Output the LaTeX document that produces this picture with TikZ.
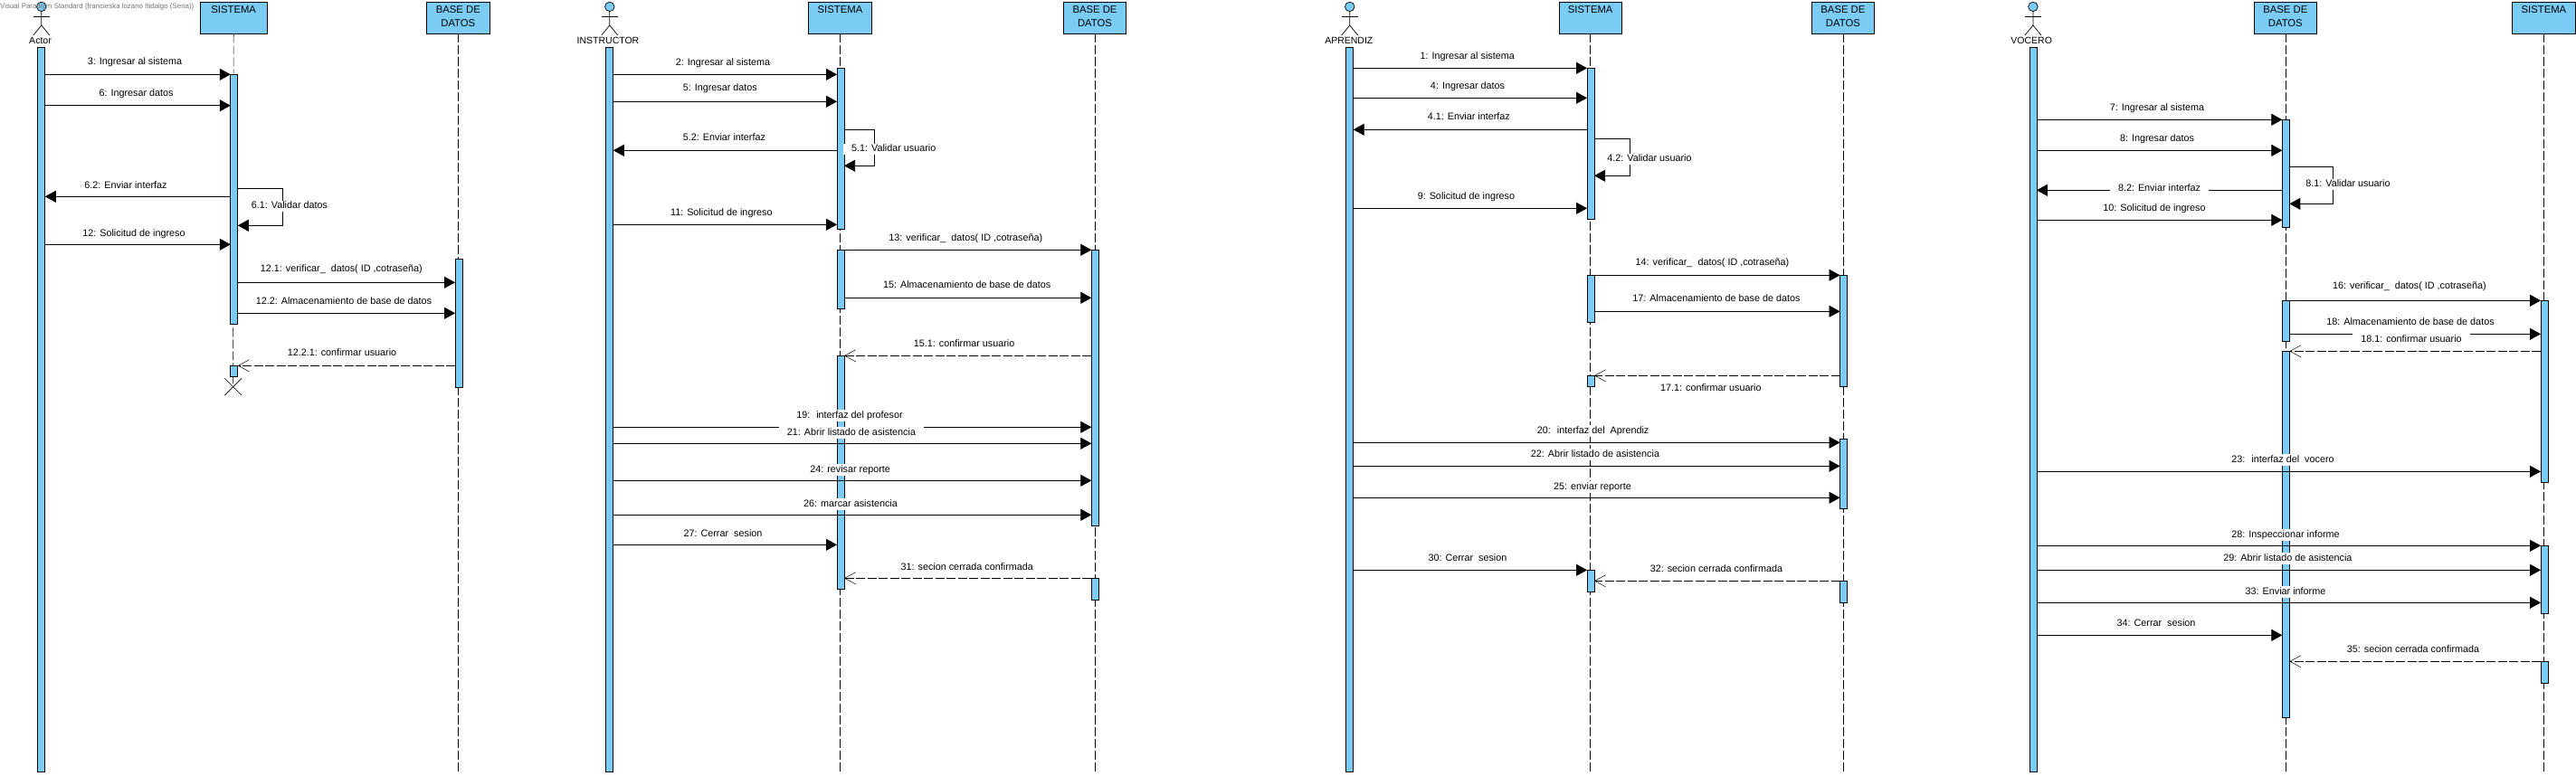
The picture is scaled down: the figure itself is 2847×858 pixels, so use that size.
\documentclass[tikz,border=0pt]{standalone}
\usepackage{fontspec}
\setmainfont{Liberation Sans}
\usetikzlibrary{arrows.meta, shapes.misc}
\definecolor{bluebar}{RGB}{122,204,245}
\newcommand{\parttext}[1]{\parbox[c][31pt][t]{66pt}{\centering\rule{0pt}{10.2pt}#1}}
\tikzset{
	partbox/.style={draw, fill=bluebar, line width=0.8pt, minimum width=69.5pt, minimum height=35pt, inner sep=1.5pt, outer sep=0pt, font=\fontsize{11.3}{15}\selectfont},
	actbar/.style={draw, fill=bluebar, line width=0.7pt, minimum width=8pt, inner sep=0pt, outer sep=0pt},
	lifeline/.style={line width=0.6pt, dash pattern=on 10pt off 3pt},
	msg/.style={line width=0.75pt, -{Triangle[length=12pt, width=13pt]}},
	reply/.style={line width=0.65pt, dash pattern=on 10pt off 2.5pt, -{Straight Barb[length=12pt, width=13pt, line width=0.5pt]}},
	msglabel/.style={fill=white, font=\fontsize{10.8}{12}\selectfont, text height=8.5pt, text depth=3pt, inner xsep=9pt, inner ysep=0.5pt},
	actorname/.style={font=\fontsize{10.5}{12}\selectfont, inner sep=0pt},
	stickhead/.style={draw, circle, fill=bluebar, line width=0.7pt, minimum size=10.5pt, inner sep=0pt},
	stickman/.pic={
		\draw[line width=0.7pt](0,12)--(0,28)--(-9,39);
		\draw[line width=0.7pt](0,28)--(9,39);
		\draw[line width=0.7pt](-9,18.3)--(9,18.3);
	}
}

\begin{document}
\begin{tikzpicture}[x=1pt, y=-1pt]
	\useasboundingbox(0,0) rectangle (2847,858);
	\pic at (45.8,0) {stickman};
	\pic at (673.8,0) {stickman};
	\pic at (1491.7,0) {stickman};
	\pic at (2246.9,0) {stickman};
	\node[stickhead] (headA) at (45.8,7.4) {};
	\node[stickhead] (headB) at (673.8,7.4) {};
	\node[stickhead] (headC) at (1491.7,7.4) {};
	\node[stickhead] (headD) at (2246.9,7.4) {};
	\node[actorname] (nameA) at (44.5,45) {Actor};
	\node[actorname] (nameB) at (672,45) {INSTRUCTOR};
	\node[actorname] (nameC) at (1490.8,45) {APRENDIZ};
	\node[actorname] (nameD) at (2245.2,45) {VOCERO};
	\node[anchor=west, inner sep=0pt, text=black!55, font=\fontsize{7.9}{10}\selectfont] (mark) at (0,7.4) {Visual Paradigm Standard (francieska lozano hidalgo (Sena))};

	\node[partbox, minimum width=73.5pt] (sisA) at (258.2,19.8) {\parttext{SISTEMA}};
	\node[partbox] (baseA) at (506.3,19.8) {\parttext{BASE DE\\DATOS}};
	\node[partbox] (sisB) at (928.5,19.8) {\parttext{SISTEMA}};
	\node[partbox] (baseB) at (1210,19.8) {\parttext{BASE DE\\DATOS}};
	\node[partbox] (sisC) at (1757.7,19.8) {\parttext{SISTEMA}};
	\node[partbox] (baseC) at (2036.9,19.8) {\parttext{BASE DE\\DATOS}};
	\node[partbox] (baseD) at (2525.8,19.8) {\parttext{BASE DE\\DATOS}};
	\node[partbox] (sisD) at (2811.4,19.8) {\parttext{SISTEMA}};

	\node[cross out, draw, line width=0.7pt, minimum size=18pt, inner sep=0pt] (endA) at (257.7,427.7) {};
	\draw[lifeline](sisA.south)--(endA.center);
	\draw[lifeline](baseA.south)--(baseA.south |- 0,855);
	\draw[lifeline](sisB.south)--(sisB.south |- 0,855);
	\draw[lifeline](baseB.south)--(baseB.south |- 0,855);
	\draw[lifeline](sisC.south)--(sisC.south |- 0,855);
	\draw[lifeline](baseC.south)--(baseC.south |- 0,855);
	\draw[lifeline](baseD.south)--(baseD.south |- 0,855);
	\draw[lifeline](sisD.south)--(sisD.south |- 0,855);

	\node[actbar, minimum height=801.3pt] (actA) at (45.8,452.65) {};
	\node[actbar, minimum height=801.3pt] (actB) at (673.8,452.65) {};
	\node[actbar, minimum height=801.3pt] (actC) at (1491.7,452.65) {};
	\node[actbar, minimum height=801.3pt] (actD) at (2246.9,452.65) {};
	\node[actbar, minimum height=275.7pt] (sisA1) at (258.8,220.15) {};
	\node[actbar, minimum height=12.4pt] (sisA2) at (258.8,410.5) {};
	\node[actbar, minimum height=142pt] (baseA1) at (507,357) {};
	\node[actbar, minimum height=178pt] (sisB1) at (929,164.3) {};
	\node[actbar, minimum height=65pt] (sisB2) at (929,308.8) {};
	\node[actbar, minimum height=258.4pt] (sisB3) at (929,522.5) {};
	\node[actbar, minimum height=305pt] (baseB1) at (1210.3,428.8) {};
	\node[actbar, minimum height=24pt] (baseB2) at (1210.3,651.3) {};
	\node[actbar, minimum height=167pt] (sisC1) at (1758,158.8) {};
	\node[actbar, minimum height=52pt] (sisC2) at (1758,330.3) {};
	\node[actbar, minimum height=12.4pt] (sisC3) at (1758,421.5) {};
	\node[actbar, minimum height=24pt] (sisC4) at (1758,642.3) {};
	\node[actbar, minimum height=123.4pt] (baseC1) at (2037.5,366) {};
	\node[actbar, minimum height=77pt] (baseC2) at (2037.5,523.8) {};
	\node[actbar, minimum height=24pt] (baseC3) at (2037.5,654.3) {};
	\node[actbar, minimum height=119pt] (baseD1) at (2526.3,191.8) {};
	\node[actbar, minimum height=45pt] (baseD2) at (2526.3,354.8) {};
	\node[actbar, minimum height=405.4pt] (baseD3) at (2526.3,591) {};
	\node[actbar, minimum height=201pt] (sisD1) at (2812,432.8) {};
	\node[actbar, minimum height=75pt] (sisD2) at (2812,640.8) {};
	\node[actbar, minimum height=24pt] (sisD3) at (2812,743.3) {};

	\draw[msg](actA.east |- 0,82.3)--(sisA1.west |- 0,82.3);
	\draw[msg](actA.east |- 0,116.7)--(sisA1.west |- 0,116.7);
	\draw[msg](sisA1.west |- 0,217.3)--(actA.east |- 0,217.3);
	\draw[msg](sisA1.east |- 0,208.3)--++(50,0)--++(0,41)--(sisA1.east |- 0,249.3);
	\draw[msg](actA.east |- 0,270.3)--(sisA1.west |- 0,270.3);
	\draw[msg](sisA1.east |- 0,312.3)--(baseA1.west |- 0,312.3);
	\draw[msg](sisA1.east |- 0,346.3)--(baseA1.west |- 0,346.3);
	\draw[reply](baseA1.west |- 0,404.3)--(sisA2.east |- 0,404.3);
	\node[msglabel] (m3) at (149,68.3) {3: Ingresar al sistema};
	\node[msglabel] (m6) at (150.6,104) {6: Ingresar datos};
	\node[msglabel] (m62) at (139,206) {6.2: Enviar interfaz};
	\node[msglabel] (m61) at (320,228) {6.1: Validar datos};
	\node[msglabel] (m12) at (148,258.3) {12: Solicitud de ingreso};
	\node[msglabel] (m121) at (377.3,298) {12.1: verificar\_ \ datos(\ ID ,cotraseña)};
	\node[msglabel] (m122) at (380,334) {12.2: Almacenamiento de base de datos};
	\node[msglabel] (m1221) at (378,391) {12.2.1: confirmar usuario};

	\draw[msg](actB.east |- 0,82.3)--(sisB1.west |- 0,82.3);
	\draw[msg](actB.east |- 0,112.3)--(sisB1.west |- 0,112.3);
	\draw[msg](sisB1.west |- 0,166.3)--(actB.east |- 0,166.3);
	\draw[msg](sisB1.east |- 0,143.3)--++(33,0)--++(0,40)--(sisB1.east |- 0,183.3);
	\draw[msg](actB.east |- 0,248.3)--(sisB1.west |- 0,248.3);
	\draw[msg](sisB2.east |- 0,276.3)--(baseB1.west |- 0,276.3);
	\draw[msg](sisB2.east |- 0,329.3)--(baseB1.west |- 0,329.3);
	\draw[reply](baseB1.west |- 0,393.3)--(sisB3.east |- 0,393.3);
	\draw[msg](actB.east |- 0,472.3)--(baseB1.west |- 0,472.3);
	\draw[msg](actB.east |- 0,490.3)--(baseB1.west |- 0,490.3);
	\draw[msg](actB.east |- 0,531.3)--(baseB1.west |- 0,531.3);
	\draw[msg](actB.east |- 0,569.3)--(baseB1.west |- 0,569.3);
	\draw[msg](actB.east |- 0,602.3)--(sisB3.west |- 0,602.3);
	\draw[reply](baseB2.west |- 0,639.3)--(sisB3.east |- 0,639.3);
	\node[msglabel] (m2) at (799,69.3) {2: Ingresar al sistema};
	\node[msglabel] (m5) at (795.8,97.3) {5: Ingresar datos};
	\node[msglabel] (m52) at (800.4,153) {5.2: Enviar interfaz};
	\node[msglabel] (m51) at (987.7,165) {5.1: Validar usuario};
	\node[msglabel] (m11) at (797.3,235.3) {11: Solicitud de ingreso};
	\node[msglabel] (m13) at (1067.3,263.3) {13: verificar\_ \ datos(\ ID ,cotraseña)};
	\node[msglabel] (m15) at (1068.75,316) {15: Almacenamiento de base de datos};
	\node[msglabel] (m151) at (1065.6,380.3) {15.1: confirmar usuario};
	\node[msglabel] (m19) at (939,459.3) {19: \ interfaz del profesor};
	\node[msglabel] (m21) at (941,478.3) {21: Abrir listado de asistencia};
	\node[msglabel] (m24) at (939.6,519.3) {24: revisar reporte};
	\node[msglabel] (m26) at (940,557.3) {26: marcar asistencia};
	\node[msglabel] (m27) at (799,590.3) {27: Cerrar \ sesion};
	\node[msglabel] (m31) at (1068.75,627.3) {31: secion cerrada confirmada};

	\draw[msg](actC.east |- 0,75.3)--(sisC1.west |- 0,75.3);
	\draw[msg](actC.east |- 0,108.3)--(sisC1.west |- 0,108.3);
	\draw[msg](sisC1.west |- 0,143.3)--(actC.east |- 0,143.3);
	\draw[msg](sisC1.east |- 0,153.3)--++(39,0)--++(0,41)--(sisC1.east |- 0,194.3);
	\draw[msg](actC.east |- 0,230.3)--(sisC1.west |- 0,230.3);
	\draw[msg](sisC2.east |- 0,304.3)--(baseC1.west |- 0,304.3);
	\draw[msg](sisC2.east |- 0,344.3)--(baseC1.west |- 0,344.3);
	\draw[reply](baseC1.west |- 0,415.3)--(sisC3.east |- 0,415.3);
	\draw[msg](actC.east |- 0,489.3)--(baseC2.west |- 0,489.3);
	\draw[msg](actC.east |- 0,515.3)--(baseC2.west |- 0,515.3);
	\draw[msg](actC.east |- 0,550.3)--(baseC2.west |- 0,550.3);
	\draw[msg](actC.east |- 0,630.3)--(sisC4.west |- 0,630.3);
	\draw[reply](baseC3.west |- 0,642.3)--(sisC4.east |- 0,642.3);
	\node[msglabel] (m1) at (1621.7,62.3) {1: Ingresar al sistema};
	\node[msglabel] (m4) at (1622,95.3) {4: Ingresar datos};
	\node[msglabel] (m41) at (1623.3,129.3) {4.1: Enviar interfaz};
	\node[msglabel] (m42) at (1823,176) {4.2: Validar usuario};
	\node[msglabel] (m9) at (1620.4,217.3) {9: Solicitud de ingreso};
	\node[msglabel] (m14) at (1892.5,290.3) {14: verificar\_ \ datos(\ ID ,cotraseña)};
	\node[msglabel] (m17) at (1896.9,331) {17: Almacenamiento de base de datos};
	\node[msglabel] (m171) at (1890.8,429.3) {17.1: confirmar usuario};
	\node[msglabel] (m20) at (1760.6,476.3) {20: \ interfaz del \ Aprendiz};
	\node[msglabel] (m22) at (1763,502.3) {22: Abrir listado de asistencia};
	\node[msglabel] (m25) at (1760,538.3) {25: enviar reporte};
	\node[msglabel] (m30) at (1621.9,617.3) {30: Cerrar \ sesion};
	\node[msglabel] (m32) at (1896.9,629.3) {32: secion cerrada confirmada};

	\draw[msg](actD.east |- 0,132.3)--(baseD1.west |- 0,132.3);
	\draw[msg](actD.east |- 0,166.3)--(baseD1.west |- 0,166.3);
	\draw[msg](baseD1.west |- 0,210.3)--(actD.east |- 0,210.3);
	\draw[msg](baseD1.east |- 0,184.3)--++(48.5,0)--++(0,41)--(baseD1.east |- 0,225.3);
	\draw[msg](actD.east |- 0,243.3)--(baseD1.west |- 0,243.3);
	\draw[msg](baseD2.east |- 0,332.3)--(sisD1.west |- 0,332.3);
	\draw[msg](baseD2.east |- 0,369.3)--(sisD1.west |- 0,369.3);
	\draw[reply](sisD1.west |- 0,388.3)--(baseD3.east |- 0,388.3);
	\draw[msg](actD.east |- 0,521.3)--(sisD1.west |- 0,521.3);
	\draw[msg](actD.east |- 0,603.3)--(sisD2.west |- 0,603.3);
	\draw[msg](actD.east |- 0,630.3)--(sisD2.west |- 0,630.3);
	\draw[msg](actD.east |- 0,666.3)--(sisD2.west |- 0,666.3);
	\draw[msg](actD.east |- 0,702.3)--(baseD3.west |- 0,702.3);
	\draw[reply](sisD3.west |- 0,731.3)--(baseD3.east |- 0,731.3);
	\node[msglabel] (m7) at (2384,119.3) {7: Ingresar al sistema};
	\node[msglabel] (m8) at (2384,153.3) {8: Ingresar datos};
	\node[msglabel] (m82) at (2386.5,208.3) {8.2: Enviar interfaz};
	\node[msglabel] (m81) at (2595,204) {8.1: Validar usuario};
	\node[msglabel] (m10) at (2381,230.3) {10: Solicitud de ingreso};
	\node[msglabel] (m16) at (2662.9,317) {16: verificar\_ \ datos(\ ID ,cotraseña)};
	\node[msglabel] (m18) at (2664,356.3) {18: Almacenamiento de base de datos};
	\node[msglabel] (m181) at (2665,375.3) {18.1: confirmar usuario};
	\node[msglabel] (m23) at (2523,508.3) {23: \ interfaz del \ vocero};
	\node[msglabel] (m28) at (2526,591.3) {28: Inspeccionar informe};
	\node[msglabel] (m29) at (2528.4,617.3) {29: Abrir listado de asistencia};
	\node[msglabel] (m33) at (2526,654.3) {33: Enviar informe};
	\node[msglabel] (m34) at (2383,689.3) {34: Cerrar \ sesion};
	\node[msglabel] (m35) at (2667,718.3) {35: secion cerrada confirmada};
\end{tikzpicture}
\end{document}
